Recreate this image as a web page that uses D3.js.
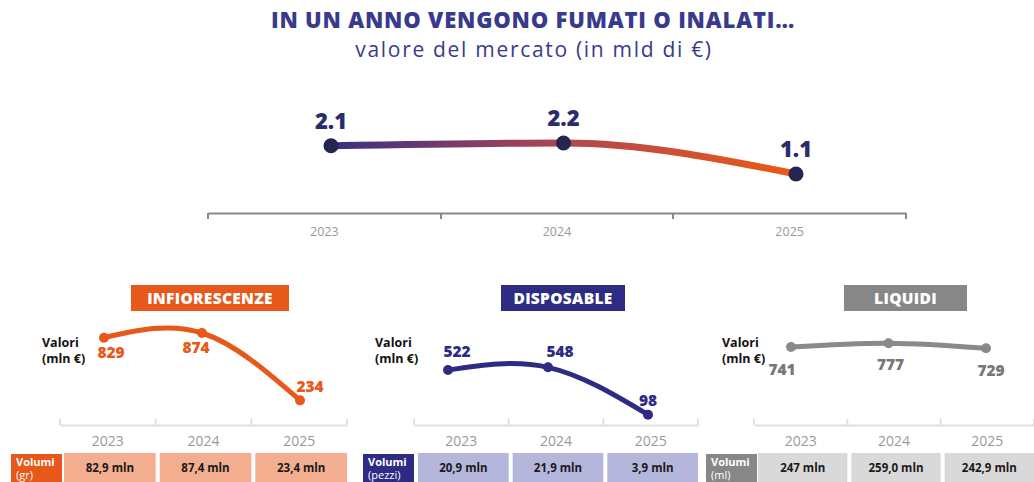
<!DOCTYPE html>
<meta charset="utf-8">
<script src="https://d3js.org/d3.v7.min.js"></script>
<style>
  body { margin: 0; background: #fff; }
  text { font-family: "Open Sans", sans-serif; }
</style>
<div id="chart"></div>
<script>
// data
var years = ["2023", "2024", "2025"];
var marketValues = [2.1, 2.2, 1.1];
var marketLabels = ["2.1", "2.2", "1.1"];

var categories = ["INFIORESCENZE", "DISPOSABLE", "LIQUIDI"];
var valoriInfiorescenze = [829, 874, 234];
var valoriDisposable = [522, 548, 98];
var valoriLiquidi = [741, 777, 729];
var volumiInfiorescenze = ["82,9 mln", "87,4 mln", "23,4 mln"];
var volumiDisposable = ["20,9 mln", "21,9 mln", "3,9 mln"];
var volumiLiquidi = ["247 mln", "259,0 mln", "242,9 mln"];
var volumiUnits = ["(gr)", "(pezzi)", "(ml)"];

var navy = "#2e2d7f", orange = "#e8581a";

var svg = d3.select("#chart").append("svg")
    .attr("width", 1034).attr("height", 482);

// title
svg.append("text").attr("x", 533).attr("y", 28)
    .attr("text-anchor", "middle")
    .style("font-size", "22px").style("font-weight", 800)
    .style("letter-spacing", "0.8px")
    .style("fill", "#383b8c")
    .text("IN UN ANNO VENGONO FUMATI O INALATI…");
svg.append("text").attr("x", 534).attr("y", 57)
    .attr("text-anchor", "middle")
    .style("font-size", "21px").style("font-weight", 400)
    .style("letter-spacing", "1.7px")
    .style("fill", "#383b8c")
    .text("valore del mercato (in mld di €)");

// ---- top chart
var xBand = d3.scaleBand().domain(years).range([208, 906]);
var xTop = d3.scalePoint().domain(years).range([331, 796]);
var yTop = d3.scaleLinear().domain([0, 2.2]).range([205, 143]);

var topAxis = svg.append("g").attr("transform", "translate(0,213)")
    .call(d3.axisBottom(xBand).tickSize(0).tickPadding(14));
topAxis.select(".domain").attr("stroke", "#888").attr("stroke-width", 2);
topAxis.selectAll("text").style("font-size", "12.5px").style("fill", "#999")
    .style("font-family", "Open Sans, sans-serif");
// the little down-ticks at the band edges
topAxis.selectAll(".edge").data([208, 441, 673, 906]).enter().append("line")
    .attr("x1", d => d).attr("x2", d => d).attr("y1", 0).attr("y2", 6)
    .attr("stroke", "#888").attr("stroke-width", 2);

var grad = svg.append("defs").append("linearGradient")
    .attr("id", "topGrad").attr("gradientUnits", "userSpaceOnUse")
    .attr("x1", xTop("2023")).attr("x2", xTop("2025")).attr("y1", 0).attr("y2", 0);
grad.append("stop").attr("offset", "0%").attr("stop-color", "#3a2f84");
grad.append("stop").attr("offset", "50%").attr("stop-color", "#b04750");
grad.append("stop").attr("offset", "100%").attr("stop-color", "#ec5a14");

var topData = years.map((y, i) => ({year: y, v: marketValues[i], label: marketLabels[i]}));
svg.append("path").datum(topData)
    .attr("d", d3.line().x(d => xTop(d.year)).y(d => yTop(d.v)).curve(d3.curveMonotoneX))
    .attr("fill", "none").attr("stroke", "url(#topGrad)").attr("stroke-width", 7);
svg.selectAll(".topDot").data(topData).enter().append("circle")
    .attr("cx", d => xTop(d.year)).attr("cy", d => yTop(d.v)).attr("r", 7.5)
    .attr("fill", "#23264f");
svg.selectAll(".topLab").data(topData).enter().append("text")
    .attr("x", d => xTop(d.year)).attr("y", d => yTop(d.v) - 17)
    .attr("text-anchor", "middle")
    .style("font-size", "22px").style("font-weight", 800).style("fill", "#2b2c6b")
    .text(d => d.label);

// ---- small panels
var panels = [
  {name: categories[0], vals: valoriInfiorescenze, vols: volumiInfiorescenze, unit: volumiUnits[0],
   color: orange, light: "#f2ae8e", textColor: orange, stroke: orange, sw: 5,
   axis: [60, 347], pts: [104, 300], box: [131, 289], volBox: 11,
   labelDy: [15, 15, -13], labelDx: [7, -6, 10], valori: 42},
  {name: categories[1], vals: valoriDisposable, vols: volumiDisposable, unit: volumiUnits[1],
   color: "#2e2c82", light: "#b4b6dc", textColor: "#2e2c82", stroke: "#2e2c82", sw: 5,
   axis: [414, 698], pts: [448, 648], box: [501, 625], volBox: 363,
   labelDy: [-18, -15, -14], labelDx: [9, 12, 0], valori: 375},
  {name: categories[2], vals: valoriLiquidi, vols: volumiLiquidi, unit: volumiUnits[2],
   color: "#878787", light: "#d9d9d9", textColor: "#777", stroke: "#8a8a8a", sw: 5,
   axis: [754, 1034], pts: [791, 986], box: [844, 967], volBox: 706,
   labelDy: [23, 22, 23], labelDx: [-9, 2, 5], valori: 722}
];

var ySmall = d3.scaleLinear().domain([0, 874]).range([425, 333]);

panels.forEach(function(p) {
  var g = svg.append("g");

  // category label
  g.append("rect").attr("x", p.box[0]).attr("y", 285)
      .attr("width", p.box[1] - p.box[0]).attr("height", 26).attr("fill", p.color);
  g.append("text").attr("x", (p.box[0] + p.box[1]) / 2).attr("y", 304)
      .attr("text-anchor", "middle")
      .style("font-size", "15.5px").style("font-weight", 800).style("fill", "#fff")
      .style("letter-spacing", "0.3px")
      .text(p.name);

  // Valori label
  g.append("text").attr("x", p.valori).attr("y", 347)
      .style("font-size", "12.5px").style("font-weight", 700).style("fill", "#111")
      .text("Valori");
  g.append("text").attr("x", p.valori).attr("y", 363)
      .style("font-size", "12.5px").style("font-weight", 700).style("fill", "#111")
      .text("(mln €)");

  // axis
  var xb = d3.scaleBand().domain(years).range(p.axis);
  var ax = g.append("g").attr("transform", "translate(0,425)")
      .call(d3.axisBottom(xb).tickSize(0).tickPadding(11));
  ax.select(".domain").attr("stroke", "#e0e0e0").attr("stroke-width", 2);
  ax.selectAll("text").style("font-size", "14px").style("fill", "#999")
      .style("font-family", "Open Sans, sans-serif");
  var edges = [p.axis[0]].concat(years.map(y => xb(y) + xb.bandwidth()));
  ax.selectAll(".edge").data(edges).enter().append("line")
      .attr("x1", d => d).attr("x2", d => d).attr("y1", 0).attr("y2", -6)
      .attr("stroke", "#e0e0e0").attr("stroke-width", 2);

  // line
  var xp = d3.scalePoint().domain(years).range(p.pts);
  var data = years.map((y, i) => ({year: y, v: p.vals[i], i: i}));
  g.append("path").datum(data)
      .attr("d", d3.line().x(d => xp(d.year)).y(d => ySmall(d.v)).curve(d3.curveNatural))
      .attr("fill", "none").attr("stroke", p.stroke).attr("stroke-width", p.sw);
  g.selectAll(".dot").data(data).enter().append("circle")
      .attr("cx", d => xp(d.year)).attr("cy", d => ySmall(d.v)).attr("r", 5)
      .attr("fill", p.stroke);
  g.selectAll(".lab").data(data).enter().append("text")
      .attr("x", d => xp(d.year) + p.labelDx[d.i])
      .attr("y", d => ySmall(d.v) + p.labelDy[d.i] + 5)
      .attr("text-anchor", "middle")
      .style("font-size", "15.5px").style("font-weight", 800).style("fill", p.textColor)
      .text(d => d.v);

  // volumi row
  g.append("rect").attr("x", p.volBox).attr("y", 454)
      .attr("width", 51).attr("height", 28).attr("fill", p.color);
  g.append("text").attr("x", p.volBox + 5).attr("y", 466)
      .style("font-size", "11px").style("font-weight", 700).style("fill", "#fff")
      .text("Volumi");
  g.append("text").attr("x", p.volBox + 5).attr("y", 479)
      .style("font-size", "11px").style("font-weight", 400).style("fill", "#fff")
      .text(p.unit);

  g.selectAll(".cell").data(years).enter().append("rect")
      .attr("x", d => xb(d) + 4).attr("y", 453)
      .attr("width", xb.bandwidth() - 4).attr("height", 29)
      .attr("fill", p.light);
  g.selectAll(".cellText").data(years).enter().append("text")
      .attr("x", d => xb(d) + 2 + xb.bandwidth() / 2).attr("y", 472)
      .attr("text-anchor", "middle")
      .style("font-size", "11.5px").style("font-weight", 700).style("fill", "#1a1a1a")
      .text((d, i) => p.vols[i]);
});
</script>
